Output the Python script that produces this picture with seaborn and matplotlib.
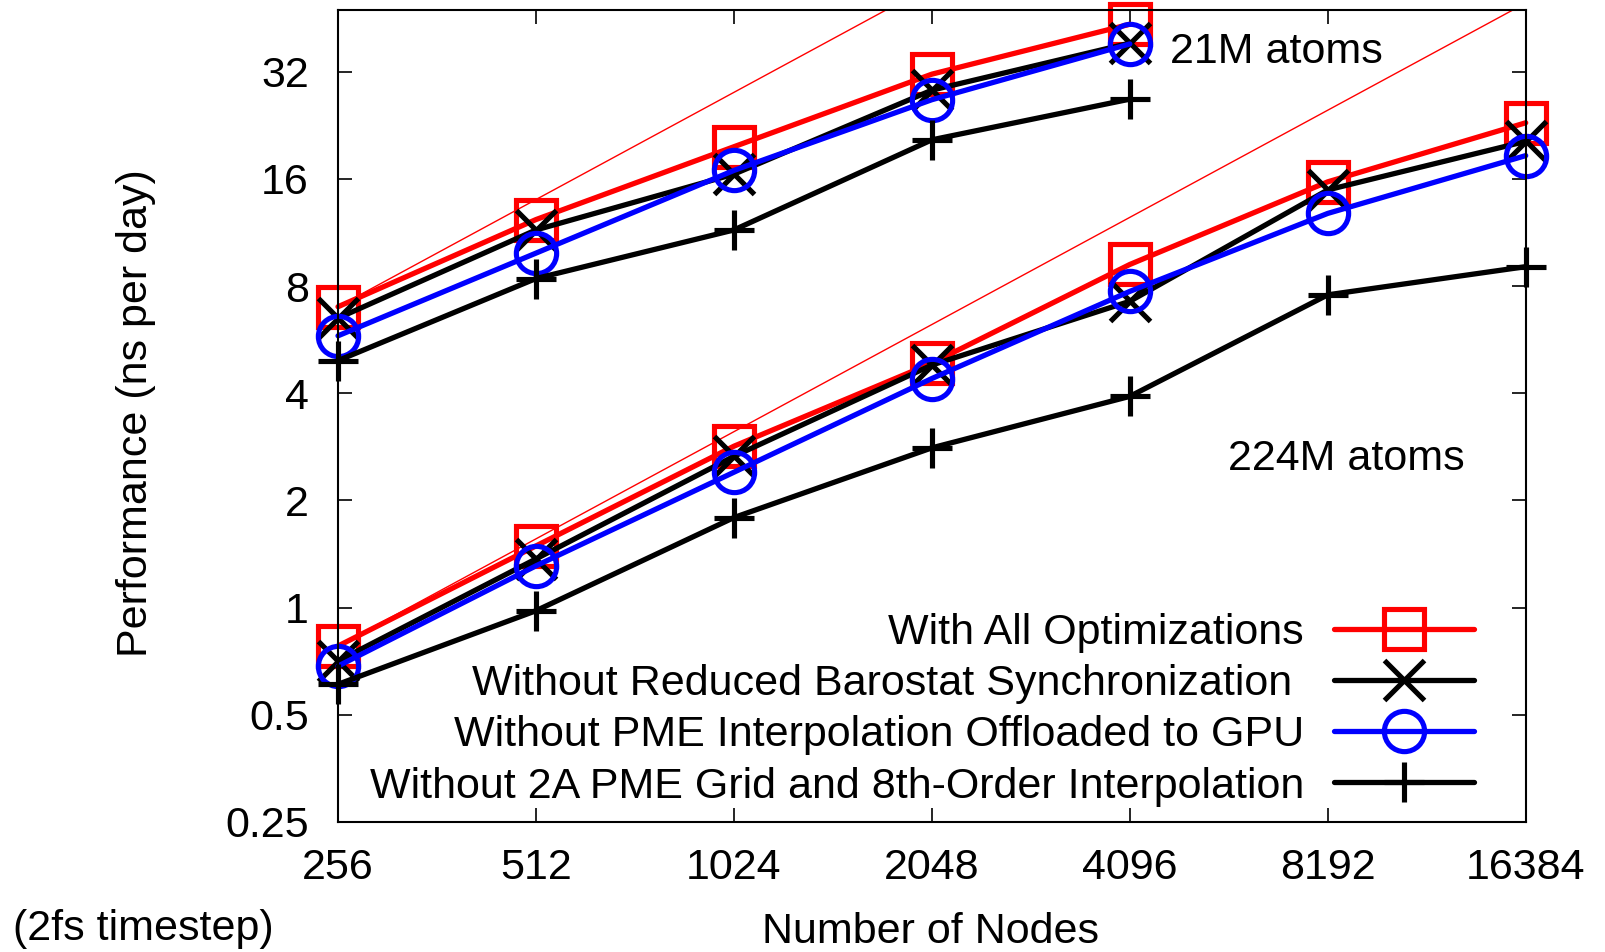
"""Scaling of NAMD runs: 21M and 224M atom systems"""

import matplotlib

matplotlib.use("Agg")
import matplotlib.pyplot as plt
import seaborn as sns

# node counts
nodes_21m = [256, 512, 1024, 2048, 4096]
nodes_224m = [256, 512, 1024, 2048, 4096, 8192, 16384]

# performance, ns per day (2fs timestep)
all_opt_21m = [7.0, 12.3, 19.7, 31.5, 43.5]
no_baro_21m = [6.5, 11.5, 16.5, 28.4, 38.5]
no_gpu_interp_21m = [5.8, 9.9, 16.9, 26.7, 38.3]
no_2a_grid_21m = [4.94, 8.4, 11.5, 20.6, 26.8]

all_opt_224m = [0.78, 1.49, 2.84, 4.86, 9.2, 15.7, 23.0]
no_baro_224m = [0.708, 1.37, 2.66, 4.8, 7.25, 14.9, 20.4]
no_gpu_interp_224m = [0.685, 1.31, 2.40, 4.40, 7.73, 12.8, 18.6]
no_2a_grid_224m = [0.609, 0.98, 1.79, 2.81, 3.92, 7.56, 9.07]

# ideal (linear) scaling from the first point of each system
ideal_nodes_21m = [256, 2048]
ideal_21m = [7.0, 56.0]
ideal_nodes_224m = [256, 16384]
ideal_224m = [0.78, 49.9]

labels = [
    "With All Optimizations",
    "Without Reduced Barostat Synchronization ",
    "Without PME Interpolation Offloaded to GPU",
    "Without 2A PME Grid and 8th-Order Interpolation",
]
colors = ["#ff0000", "#000000", "#0000ff", "#000000"]
markers = ["s", "x", "o", "+"]

x_ticks = [256, 512, 1024, 2048, 4096, 8192, 16384]
y_ticks = [0.25, 0.5, 1, 2, 4, 8, 16, 32]
y_ticklabels = ["0.25", "0.5", "1", "2", "4", "8", "16", "32"]

sns.set_theme(style="ticks")
plt.rcParams["font.family"] = ["Liberation Sans", "DejaVu Sans"]
plt.rcParams["axes.linewidth"] = 1.5
for key in ["text.color", "axes.labelcolor", "xtick.color", "ytick.color",
            "axes.edgecolor"]:
    plt.rcParams[key] = "black"

FS = 31

fig = plt.figure(figsize=(16.05, 9.52), dpi=100)
ax = fig.add_axes([0.2106, 0.1366, 0.74, 0.8529])
ax.set_xscale("log", base=2)
ax.set_yscale("log", base=2)

for xs, ys in [(ideal_nodes_21m, ideal_21m), (ideal_nodes_224m, ideal_224m)]:
    sns.lineplot(x=xs, y=ys, ax=ax, color="#ff0000", linewidth=1.0,
                 legend=False, zorder=1)

handles = []
for nodes, series in [
    (nodes_21m, [all_opt_21m, no_baro_21m, no_gpu_interp_21m, no_2a_grid_21m]),
    (nodes_224m, [all_opt_224m, no_baro_224m, no_gpu_interp_224m,
                  no_2a_grid_224m]),
]:
    handles = []
    for ys, c, m in zip(series, colors, markers):
        sns.lineplot(
            x=nodes, y=ys, ax=ax, color=c, linewidth=3.8, marker=m,
            markersize=29, markerfacecolor="none", markeredgecolor=c,
            markeredgewidth=3.7, legend=False, zorder=2, clip_on=False,
        )
        handles.append(ax.lines[-1])

ax.set_xlim(256, 16384)
ax.set_ylim(0.25, 47.7)
ax.set_xticks(x_ticks)
ax.set_xticklabels([str(n) for n in x_ticks])
ax.set_yticks(y_ticks)
ax.set_yticklabels(y_ticklabels)
ax.minorticks_off()
ax.tick_params(axis="both", which="major", direction="in", length=10,
               width=1.2, labelsize=FS, top=True, right=True, color="black")
ax.tick_params(axis="x", pad=19)
ax.tick_params(axis="y", pad=21)
ax.set_xlabel("")
ax.set_ylabel("")

ax.text(0.7005, 0.948, "21M atoms", transform=ax.transAxes, fontsize=FS,
        ha="left", va="center")
ax.text(0.749, 0.447, "224M atoms", transform=ax.transAxes, fontsize=FS,
        ha="left", va="center")

ax.legend(
    handles, labels, loc="lower right", bbox_to_anchor=(0.9565, 0.019),
    markerfirst=False, frameon=False, borderpad=0, borderaxespad=0,
    handlelength=3.25, handletextpad=0.7, labelspacing=0.26, fontsize=FS,
    numpoints=1,
)

fig.text(0.0847, 0.566, "Performance (ns per day)", rotation=90,
         fontsize=FS, ha="center", va="center")
fig.text(0.58, 0.021, "Number of Nodes", fontsize=FS, ha="center",
         va="center")
fig.text(0.0081, 0.024, "(2fs timestep)", fontsize=FS, ha="left",
         va="center")

fig.savefig("out.png", dpi=100)
